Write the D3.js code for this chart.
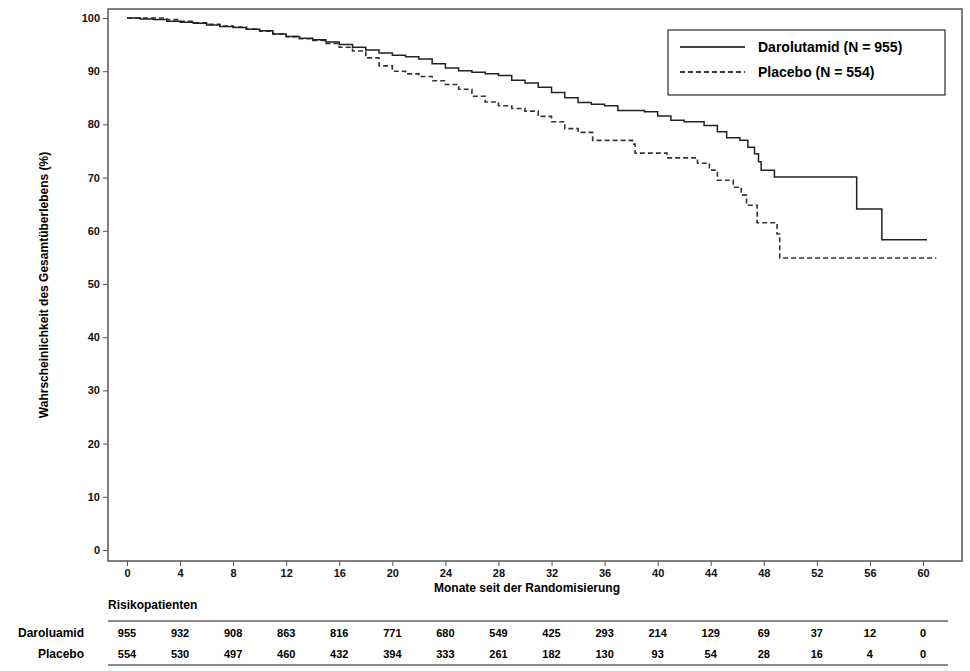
<!DOCTYPE html>
<html><head><meta charset="utf-8">
<script src="https://cdn.jsdelivr.net/npm/d3@7"></script>
<style>body{margin:0;background:#fff}svg text{font-family:"Liberation Sans",Arial,sans-serif;font-weight:bold}</style>
</head><body><svg id="c" width="970" height="671"></svg>
<script>
// Kaplan-Meier step points [month, survival %]
const darolutamid = [[0,100],[1,99.8],[2,99.7],[3,99.4],[4,99.2],[5,99],[6,98.7],[7,98.4],[8,98.2],[9,97.9],[10,97.6],[11,97],[12,96.5],[13,96.2],[14,95.9],[15,95.5],[16,95],[17,94.5],[18,94],[19,93.4],[20,93],[21,92.7],[22,92.3],[23,91.4],[24,90.6],[25,90.1],[26,89.8],[27,89.5],[28,89.2],[29,88.3],[30,87.8],[31,87],[32,86],[33,85],[34,84.1],[35,83.8],[36,83.5],[37,82.6],[39,82.4],[40,81.6],[41,80.8],[42,80.5],[43.5,79.8],[44.5,78.6],[45.2,77.5],[46.2,77],[46.8,75.7],[47.3,74.5],[47.6,73],[47.8,71.4],[48.8,70.1],[55,64.1],[56.9,58.3],[60.3,58.3]];
const placebo = [[0,100],[2,100],[3,99.7],[4,99.4],[5,99.1],[6,98.8],[7,98.5],[8,98.3],[9,97.9],[10,97.5],[11,97],[12,96.5],[13,96.1],[14,95.8],[15,95.2],[16,94.5],[17,93.8],[18,92.5],[19,91],[20,90],[21,89.5],[22,89],[23,88.2],[24,87.5],[25,86.6],[26,85.3],[27,84.2],[28,83.5],[29,83],[30,82.5],[31,81.5],[32,80.5],[33,79.2],[34,78.5],[35.1,77],[38.1,76.3],[38.3,74.6],[40.7,73.7],[43,72.7],[43.9,71.4],[44.5,69.5],[45.7,68.2],[46.3,66.7],[46.7,64.8],[47.5,61.5],[49,59.4],[49.2,54.9],[61,54.9]];
const xTicks = d3.range(0, 61, 4);
const yTicks = d3.range(0, 101, 10);
const riskDaro = [955,932,908,863,816,771,680,549,425,293,214,129,69,37,12,0];
const riskPlac = [554,530,497,460,432,394,333,261,182,130,93,54,28,16,4,0];
const legendLabels = ["Darolutamid (N = 955)", "Placebo (N = 554)"];

const svg = d3.select("#c");
const x = d3.scaleLinear().domain([0, 60]).range([127, 923]);
const y = d3.scaleLinear().domain([0, 100]).range([550, 18]);

// frame
svg.append("rect").attr("x",108).attr("y",9).attr("width",854).attr("height",552)
  .attr("fill","none").attr("stroke","#555").attr("stroke-width",1.5);

// axes
const xAxis = svg.append("g").attr("transform","translate(0,561)")
  .call(d3.axisBottom(x).tickValues(xTicks).tickSize(5).tickSizeOuter(0));
const yAxis = svg.append("g").attr("transform","translate(108,0)")
  .call(d3.axisLeft(y).tickValues(yTicks).tickSize(5).tickSizeOuter(0));
[xAxis, yAxis].forEach(a => {
  a.select(".domain").remove();
  a.selectAll("line").attr("stroke","#555");
  a.selectAll("text").attr("font-size",11).attr("fill","#111");
});
xAxis.selectAll("text").attr("y",8).attr("dy","0.71em");

svg.append("text").attr("x",527).attr("y",592).attr("text-anchor","middle")
  .attr("font-size",12).text("Monate seit der Randomisierung");
svg.append("text").attr("transform","translate(48,285) rotate(-90)").attr("text-anchor","middle")
  .attr("font-size",12).text("Wahrscheinlichkeit des Gesamtüberlebens (%)");

// curves
const line = d3.line().x(d => x(d[0])).y(d => y(d[1])).curve(d3.curveStepAfter);
svg.append("path").datum(placebo).attr("d",line).attr("fill","none")
  .attr("stroke","#333").attr("stroke-width",1.6).attr("stroke-dasharray","5,3");
svg.append("path").datum(darolutamid).attr("d",line).attr("fill","none")
  .attr("stroke","#222").attr("stroke-width",1.5);

// legend
const lg = svg.append("g");
lg.append("rect").attr("x",668).attr("y",30).attr("width",277).attr("height",65)
  .attr("fill","#fff").attr("stroke","#000").attr("stroke-width",1);
legendLabels.forEach((t, i) => {
  const yy = 47 + i * 25;
  lg.append("line").attr("x1",680).attr("x2",745).attr("y1",yy).attr("y2",yy)
    .attr("stroke","#000").attr("stroke-width",1.5).attr("stroke-dasharray", i ? "5,3" : null);
  lg.append("text").attr("x",758).attr("y",yy+5).attr("font-size",14).text(t);
});

// risk table
svg.append("text").attr("x",108).attr("y",609).attr("font-size",12).text("Risikopatienten");
svg.append("line").attr("x1",108).attr("x2",948).attr("y1",621).attr("y2",621).attr("stroke","#666").attr("stroke-width",1.5);
svg.append("line").attr("x1",108).attr("x2",948).attr("y1",665).attr("y2",665).attr("stroke","#666").attr("stroke-width",1.5);
[["Daroluamid", riskDaro, 637], ["Placebo", riskPlac, 658]].forEach(([name, vals, yy]) => {
  svg.append("text").attr("x",84).attr("y",yy).attr("text-anchor","end").attr("font-size",12).text(name);
  svg.selectAll(null).data(vals).join("text")
    .attr("x",(d,i) => x(xTicks[i])).attr("y",yy).attr("text-anchor","middle")
    .attr("font-size",11).text(d => d);
});
</script></body></html>
